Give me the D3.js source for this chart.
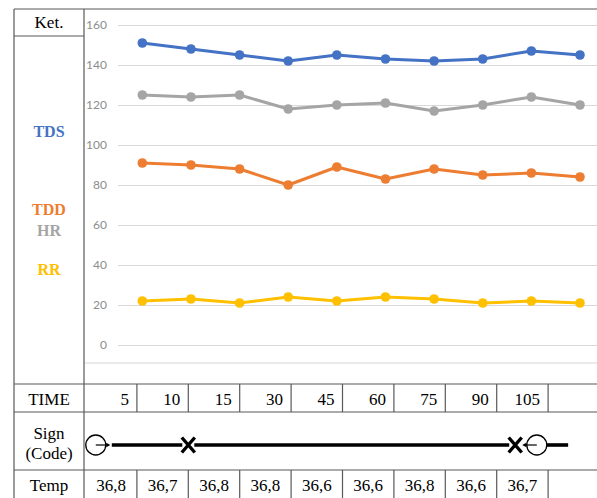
<!DOCTYPE html>
<html>
<head>
<meta charset="utf-8">
<script src="https://cdn.jsdelivr.net/npm/d3@7"></script>
<style>
  html, body { margin: 0; padding: 0; background: #fff; }
  svg { display: block; }
</style>
</head>
<body>
<svg id="chart" width="597" height="498"></svg>
<script>
// Vital signs per observation
const observations = d3.range(10);
const tds = [151, 148, 145, 142, 145, 143, 142, 143, 147, 145];
const hr  = [125, 124, 125, 118, 120, 121, 117, 120, 124, 120];
const tdd = [91, 90, 88, 80, 89, 83, 88, 85, 86, 84];
const rr  = [22, 23, 21, 24, 22, 24, 23, 21, 22, 21];
const yTicks = [0, 20, 40, 60, 80, 100, 120, 140, 160];

// Record table rows
const timeLabels = ["5", "10", "15", "30", "45", "60", "75", "90", "105", ""];
const temps = ["36,8", "36,7", "36,8", "36,8", "36,6", "36,6", "36,8", "36,6", "36,7", ""];
// Sign codes along the time columns (position in column units)
const signEvents = [
  { code: "O", at: 0.2, dir: 1 },
  { code: "X", at: 2.0 },
  { code: "X", at: 8.36 },
  { code: "O", at: 8.78, dir: -1 }
];
const signEnd = 9.39;

const series = [
  { name: "TDS", values: tds, color: "#4472C4" },
  { name: "HR",  values: hr,  color: "#A5A5A5" },
  { name: "TDD", values: tdd, color: "#ED7D31" },
  { name: "RR",  values: rr,  color: "#FFC000" }
];
const rowLabels = [
  { name: "TDS", color: "#4472C4", y: 137 },
  { name: "TDD", color: "#ED7D31", y: 215 },
  { name: "HR",  color: "#A5A5A5", y: 236 },
  { name: "RR",  color: "#FFC000", y: 275 }
];

const svg = d3.select("#chart");
const W = 597, H = 498;
const serif = "'Liberation Serif', 'DejaVu Serif', serif";
const lineColor = "#595959";

// ---- chart scales
const x = d3.scaleBand().domain(observations).range([118, 604.3]);
const y = d3.scaleLinear().domain([0, 160]).range([345, 25]);

// chart area bottom edge
svg.append("line").attr("x1", 84).attr("x2", W).attr("y1", 363).attr("y2", 363)
  .attr("stroke", "#e3e3e3").attr("stroke-width", 1.5);

// gridlines + tick labels
const yAxis = d3.axisLeft(y).tickValues(yTicks).tickSize(-(W - 118)).tickPadding(11);
const gAxis = svg.append("g").attr("transform", "translate(118,0)").call(yAxis);
gAxis.select(".domain").remove();
gAxis.selectAll(".tick line").attr("stroke", "#d9d9d9").attr("stroke-width", 1);
gAxis.selectAll(".tick text")
  .attr("fill", "#8c8c8c").attr("font-family", "Lato, 'Open Sans', sans-serif")
  .attr("font-size", 12);

// lines and markers
const line = d3.line().x((d, i) => x(i) + x.bandwidth() / 2).y(d => y(d));
const gS = svg.append("g").selectAll("g").data(series).join("g");
gS.append("path")
  .attr("d", d => line(d.values))
  .attr("fill", "none").attr("stroke", d => d.color)
  .attr("stroke-width", 3).attr("stroke-linejoin", "round");
gS.selectAll("circle").data(d => d.values.map(v => ({ v, c: d.color }))).join("circle")
  .attr("cx", (d, i) => x(i) + x.bandwidth() / 2)
  .attr("cy", d => y(d.v)).attr("r", 4.8).attr("fill", d => d.c);

// ---- table frame
const frame = svg.append("g").attr("stroke", lineColor).attr("stroke-width", 1.2);
frame.append("line").attr("x1", 14).attr("x2", W).attr("y1", 9).attr("y2", 9);
frame.append("line").attr("x1", 14).attr("x2", 14).attr("y1", 9).attr("y2", H);
frame.append("line").attr("x1", 84).attr("x2", 84).attr("y1", 9).attr("y2", H);
frame.append("line").attr("x1", 14).attr("x2", 84).attr("y1", 36).attr("y2", 36);
[384, 412, 470].forEach(yy =>
  frame.append("line").attr("x1", 14).attr("x2", W).attr("y1", yy).attr("y2", yy));

const col = d3.scaleBand().domain(observations).range([85.5, 599.5]);
// column dividers in TIME and Temp rows
observations.slice(1).forEach(i => {
  [[384, 412], [470, H]].forEach(([a, b]) =>
    frame.append("line").attr("x1", col(i)).attr("x2", col(i)).attr("y1", a).attr("y2", b));
});

// left column labels
const txt = (s, xx, yy, opts = {}) => svg.append("text")
  .attr("x", xx).attr("y", yy).attr("text-anchor", opts.anchor || "middle")
  .attr("font-family", serif).attr("font-size", opts.size || 17)
  .attr("font-weight", opts.weight || "normal")
  .attr("fill", opts.color || "#000").text(s);

txt("Ket.", 49, 28);
rowLabels.forEach(r => txt(r.name, 49, r.y, { color: r.color, weight: "bold", size: 16 }));
txt("TIME", 49, 405);
txt("Sign", 49, 439);
txt("(Code)", 49, 459);
txt("Temp", 49, 491);

// TIME values, right aligned in their cells
timeLabels.forEach((t, i) => txt(t, col(i) + col.bandwidth() - 8, 405, { anchor: "end" }));
// Temp values, centered
temps.forEach((t, i) => txt(t, col(i) + col.bandwidth() / 2, 491));

// ---- sign (code) timeline
const sy = 445;
const pos = t => col.range()[0] + t * col.step();
const gSign = svg.append("g");
const stops = signEvents.map(e => ({ x: pos(e.at), code: e.code, dir: e.dir }));
// thick connecting segments between consecutive marks
for (let k = 0; k < stops.length; k++) {
  const a = stops[k];
  const b = k + 1 < stops.length ? stops[k + 1] : null;
  if (b && a.code === "X" && b.code === "O") continue; // arrow joins these directly
  let x1 = a.x + (a.code === "O" ? 16 : 6);
  if (a.code === "O" && a.dir === -1) x1 = a.x + 10;
  const x2 = b ? b.x - 6 : pos(signEnd);
  gSign.append("line").attr("x1", x1).attr("x2", x2).attr("y1", sy).attr("y2", sy)
    .attr("stroke", "#000").attr("stroke-width", 3.6);
}
// circle marks with a short pointer arrow
stops.filter(s => s.code === "O").forEach(s => {
  gSign.append("circle").attr("cx", s.x).attr("cy", sy).attr("r", 10)
    .attr("fill", "none").attr("stroke", "#000").attr("stroke-width", 1.3);
  const tip = s.x + s.dir * 13;
  gSign.append("line").attr("x1", s.x).attr("x2", tip).attr("y1", sy).attr("y2", sy)
    .attr("stroke", "#000").attr("stroke-width", 1.2);
  gSign.append("path")
    .attr("d", `M${tip + s.dir * 1.5},${sy} L${tip - s.dir * 2.5},${sy - 2.2} L${tip - s.dir * 2.5},${sy + 2.2}Z`)
    .attr("fill", "#000");
});
// X marks drawn as two crossing strokes
stops.filter(s => s.code === "X").forEach(s => {
  gSign.append("path")
    .attr("d", `M${s.x - 6.5},${sy - 7.5} L${s.x + 6.5},${sy + 7.5} M${s.x + 6.5},${sy - 7.5} L${s.x - 6.5},${sy + 7.5}`)
    .attr("stroke", "#000").attr("stroke-width", 3.4).attr("fill", "none");
});
</script>
</body>
</html>
